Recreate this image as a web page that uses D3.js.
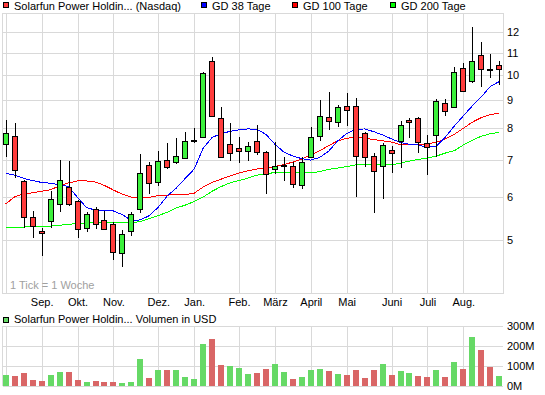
<!DOCTYPE html>
<html>
<head>
<meta charset="utf-8">
<script src="https://cdn.jsdelivr.net/npm/d3@7"></script>
<style>
body { margin: 0; background: #fff; }
svg { display: block; }
text { font-family: "Liberation Sans", Arial, sans-serif; font-size: 11px; }
</style>
</head>
<body>
<script>
// weekly candles, Solarfun Power Holdings (Nasdaq), one entry per week
var open  = [7.48, 7.74, 6.40, 5.51, 5.19, 5.42, 5.82, 6.24, 5.88, 5.25, 5.70, 5.43, 5.35, 4.73, 5.19, 5.69, 6.85, 6.38, 6.99, 6.95,
             7.05, 7.60, 7.70, 10.62, 8.35, 7.48, 7.36, 7.28, 7.59, 7.25, 6.73, 6.85, 6.83, 6.30, 7.08, 7.76, 8.40, 8.21, 8.78, 8.79,
             7.84, 7.12, 6.83, 7.29, 7.59, 8.29, 8.36, 7.51, 7.77, 8.89, 8.76, 10.30, 9.75, 10.89, 10.28, 10.45];
var high  = [8.29, 8.17, 6.44, 5.65, 5.26, 6.14, 7.00, 6.96, 5.92, 5.63, 5.75, 5.66, 5.39, 5.22, 5.62, 7.18, 6.94, 7.27, 7.51, 7.68,
             7.89, 8.00, 10.16, 10.80, 8.74, 8.17, 7.72, 7.55, 8.10, 7.27, 7.54, 7.10, 6.95, 7.10, 8.04, 9.01, 9.31, 8.83, 9.27, 9.08,
             7.89, 7.22, 7.51, 7.44, 8.26, 8.35, 8.40, 7.78, 9.05, 9.05, 10.37, 10.55, 12.27, 11.51, 10.94, 10.61];
var low   = [7.10, 6.48, 5.26, 5.04, 4.68, 5.25, 5.63, 5.78, 5.04, 5.18, 5.23, 5.22, 4.60, 4.47, 5.08, 5.61, 6.06, 6.28, 6.74, 6.89,
             7.05, 7.53, 7.68, 8.38, 7.05, 6.98, 6.91, 6.96, 7.16, 6.06, 6.59, 6.42, 6.23, 6.19, 7.06, 7.60, 7.95, 8.06, 8.09, 6.00,
             6.81, 5.60, 5.93, 6.64, 6.76, 7.69, 7.22, 6.57, 7.10, 8.44, 8.73, 9.34, 9.70, 9.53, 9.90, 9.60];
var close = [7.84, 6.71, 5.50, 5.30, 5.15, 5.93, 6.43, 5.82, 5.23, 5.58, 5.35, 5.24, 4.75, 5.12, 5.57, 6.62, 6.36, 6.96, 6.81, 7.11,
             7.59, 7.61, 10.11, 8.44, 7.08, 7.20, 7.26, 7.43, 7.23, 6.60, 6.84, 6.86, 6.32, 6.95, 7.70, 8.44, 8.26, 8.74, 8.64, 7.12,
             7.08, 6.69, 7.45, 7.20, 8.10, 8.21, 7.54, 7.41, 8.98, 8.61, 10.13, 9.36, 10.64, 10.26, 10.24, 10.26];

// volume in million USD
var volume = [55, 50, 65, 30, 25, 55, 70, 70, 30, 20, 25, 20, 20, 15, 20, 135, 40, 80, 80, 80,
              45, 35, 210, 235, 105, 100, 90, 60, 65, 85, 110, 70, 35, 45, 80, 85, 75, 60, 55, 80,
              40, 80, 110, 55, 75, 65, 50, 45, 80, 45, 120, 85, 245, 180, 95, 50];

// moving averages (GD = gleitender Durchschnitt), read at each week
var gd38  = [6.62, 6.57, 6.48, 6.42, 6.37, 6.35, 6.31, 6.26, 5.98, 5.73, 5.67, 5.66, 5.65, 5.56, 5.43, 5.44, 5.54, 5.74, 6.02, 6.22,
             6.48, 6.74, 7.36, 7.70, 7.82, 7.90, 7.95, 7.98, 7.97, 7.80, 7.48, 7.24, 7.12, 7.04, 7.00, 7.08, 7.27, 7.59, 7.83, 7.96,
             7.98, 7.89, 7.78, 7.65, 7.54, 7.48, 7.46, 7.38, 7.43, 7.71, 8.08, 8.43, 8.79, 9.13, 9.54, 9.74];
var gd100 = [5.82, 6.00, 6.07, 6.10, 6.14, 6.18, 6.28, 6.36, 6.41, 6.41, 6.38, 6.29, 6.17, 6.06, 5.99, 5.96, 5.98, 6.03, 6.04, 6.05,
             6.05, 6.09, 6.25, 6.37, 6.46, 6.55, 6.63, 6.69, 6.74, 6.77, 6.81, 6.87, 6.94, 7.03, 7.15, 7.28, 7.44, 7.59, 7.67, 7.71,
             7.68, 7.63, 7.59, 7.55, 7.47, 7.46, 7.47, 7.50, 7.54, 7.66, 7.80, 8.00, 8.21, 8.37, 8.48, 8.52];
var gd200 = [5.27, 5.27, 5.28, 5.29, 5.29, 5.30, 5.32, 5.34, 5.36, 5.37, 5.38, 5.38, 5.38, 5.38, 5.38, 5.40, 5.47, 5.54, 5.62, 5.72,
             5.79, 5.88, 5.99, 6.14, 6.26, 6.36, 6.42, 6.49, 6.57, 6.61, 6.64, 6.64, 6.64, 6.63, 6.63, 6.67, 6.73, 6.77, 6.81, 6.86,
             6.88, 6.86, 6.86, 6.86, 6.91, 6.97, 7.02, 7.06, 7.12, 7.21, 7.28, 7.46, 7.61, 7.74, 7.82, 7.87];

// month starts (week index) and labels
var monthWeeks  = [0, 4, 8, 12, 17, 21, 26, 30, 34, 38, 43, 47, 51];
var monthLabels = ["", "Sep.", "Okt.", "Nov.", "Dez.", "Jan.", "Feb.", "M\u00e4rz", "April", "Mai", "Juni", "Juli", "Aug."];

var priceTicks  = [5, 6, 7, 8, 9, 10, 11, 12];
var volumeTicks = [0, 100, 200, 300];

var gridColor = "#d9d9d9";
var upColor = "#3cf03c", downColor = "#ff3c3c";
var volUp = "#66d966", volDown = "#d96666";

function crisp(v) { return Math.round(v) + 0.5; }

var svg = d3.select('body').append('svg')
  .attr('width', 545)
  .attr('height', 395);

var x = d3.scaleLinear().domain([0, open.length - 1]).range([5.8, 499.2]);
var y = d3.scaleLog().domain([4, 13]).range([293, 13]);
var yv = d3.scaleLinear().domain([0, 300]).range([386, 326]);

// ---------- legend ----------
var legend = [
  {label: "Solarfun Power Holdin... (Nasdaq)", color: downColor, x: 3},
  {label: "GD 38 Tage", color: "#0000ff", x: 201},
  {label: "GD 100 Tage", color: "#ff0000", x: 292},
  {label: "GD 200 Tage", color: "#00ff00", x: 390}
];
var lg = svg.append('g').selectAll('g').data(legend).enter().append('g');
lg.append('rect')
  .attr('x', function(d){ return d.x + 0.5; })
  .attr('y', 2.5)
  .attr('width', 5)
  .attr('height', 5)
  .attr('fill', function(d){ return d.color; })
  .attr('stroke', '#000');
lg.append('text')
  .attr('x', function(d){ return d.x + 11; })
  .attr('y', 10)
  .text(function(d){ return d.label; });

// ---------- price panel grid ----------
var grid = svg.append('g').attr('stroke', gridColor).attr('fill', 'none');
grid.selectAll('.hp').data(priceTicks).enter().append('line')
  .attr('x1', 3).attr('x2', 503)
  .attr('y1', function(d){ return crisp(y(d)); })
  .attr('y2', function(d){ return crisp(y(d)); });
grid.selectAll('.vp').data(monthWeeks).enter().append('line')
  .attr('x1', function(d){ return crisp(x(d)); })
  .attr('x2', function(d){ return crisp(x(d)); })
  .attr('y1', 13).attr('y2', 293);
grid.append('rect').attr('x', 2.5).attr('y', 13.5).attr('width', 501).attr('height', 280);

// volume panel grid
grid.selectAll('.hv').data(volumeTicks).enter().append('line')
  .attr('x1', 3).attr('x2', 503)
  .attr('y1', function(d){ return crisp(yv(d)); })
  .attr('y2', function(d){ return crisp(yv(d)); });
grid.selectAll('.vv').data(monthWeeks).enter().append('line')
  .attr('x1', function(d){ return crisp(x(d)); })
  .attr('x2', function(d){ return crisp(x(d)); })
  .attr('y1', 326).attr('y2', 386);
grid.append('line').attr('x1', 2.5).attr('x2', 2.5).attr('y1', 326).attr('y2', 386);

// axis labels
svg.append('g').selectAll('text').data(priceTicks).enter().append('text')
  .attr('x', 507)
  .attr('y', function(d){ return y(d) + 4; })
  .text(function(d){ return d; });
svg.append('g').selectAll('text').data(volumeTicks).enter().append('text')
  .attr('x', 507)
  .attr('y', function(d){ return yv(d) + 4; })
  .text(function(d){ return d + "M"; });
svg.append('g').selectAll('text').data(monthWeeks).enter().append('text')
  .attr('x', function(d){ return x(d) + 0.5; })
  .attr('y', 306)
  .attr('text-anchor', 'middle')
  .text(function(d, i){ return monthLabels[i]; });

svg.append('text')
  .attr('x', 10).attr('y', 289)
  .attr('fill', '#a0a0a0')
  .text("1 Tick = 1 Woche");

// ---------- moving averages ----------
var line = d3.line()
  .x(function(d, i){ return x(i); })
  .y(function(d){ return y(d); });

[[gd200, "#00ff00"], [gd100, "#ff0000"], [gd38, "#0000ff"]].forEach(function(s){
  svg.append('path')
    .attr('d', line(s[0]))
    .attr('fill', 'none')
    .attr('stroke', s[1])
    .attr('stroke-width', 1)
    .attr('shape-rendering', 'crispEdges');
});

// ---------- candles ----------
var candles = svg.append('g').selectAll('g').data(open).enter().append('g');
candles.append('line')
  .attr('x1', function(d, i){ return crisp(x(i)); })
  .attr('x2', function(d, i){ return crisp(x(i)); })
  .attr('y1', function(d, i){ return Math.round(y(high[i])); })
  .attr('y2', function(d, i){ return Math.round(y(low[i])); })
  .attr('stroke', '#000');
candles.append('rect')
  .attr('x', function(d, i){ return Math.round(x(i)) - 2.5; })
  .attr('y', function(d, i){ return crisp(y(Math.max(open[i], close[i]))); })
  .attr('width', 5)
  .attr('height', function(d, i){
    return Math.max(1, Math.round(y(Math.min(open[i], close[i]))) - Math.round(y(Math.max(open[i], close[i]))));
  })
  .attr('fill', function(d, i){ return close[i] >= open[i] ? upColor : downColor; })
  .attr('stroke', '#000');

// ---------- volume ----------
svg.append('rect')
  .attr('x', 3.5).attr('y', 317.5).attr('width', 5).attr('height', 5)
  .attr('fill', volUp).attr('stroke', '#000');
svg.append('text')
  .attr('x', 14).attr('y', 323)
  .text("Solarfun Power Holdin... Volumen in USD");

svg.append('g').selectAll('rect').data(volume).enter().append('rect')
  .attr('x', function(d, i){ return Math.round(x(i)) - 3; })
  .attr('y', function(d){ return Math.round(yv(d)); })
  .attr('width', 6)
  .attr('height', function(d){ return 386 - Math.round(yv(d)); })
  .attr('fill', function(d, i){
    if (i == 0) return volUp;
    return close[i] >= close[i - 1] ? volUp : volDown;
  });
</script>
</body>
</html>
